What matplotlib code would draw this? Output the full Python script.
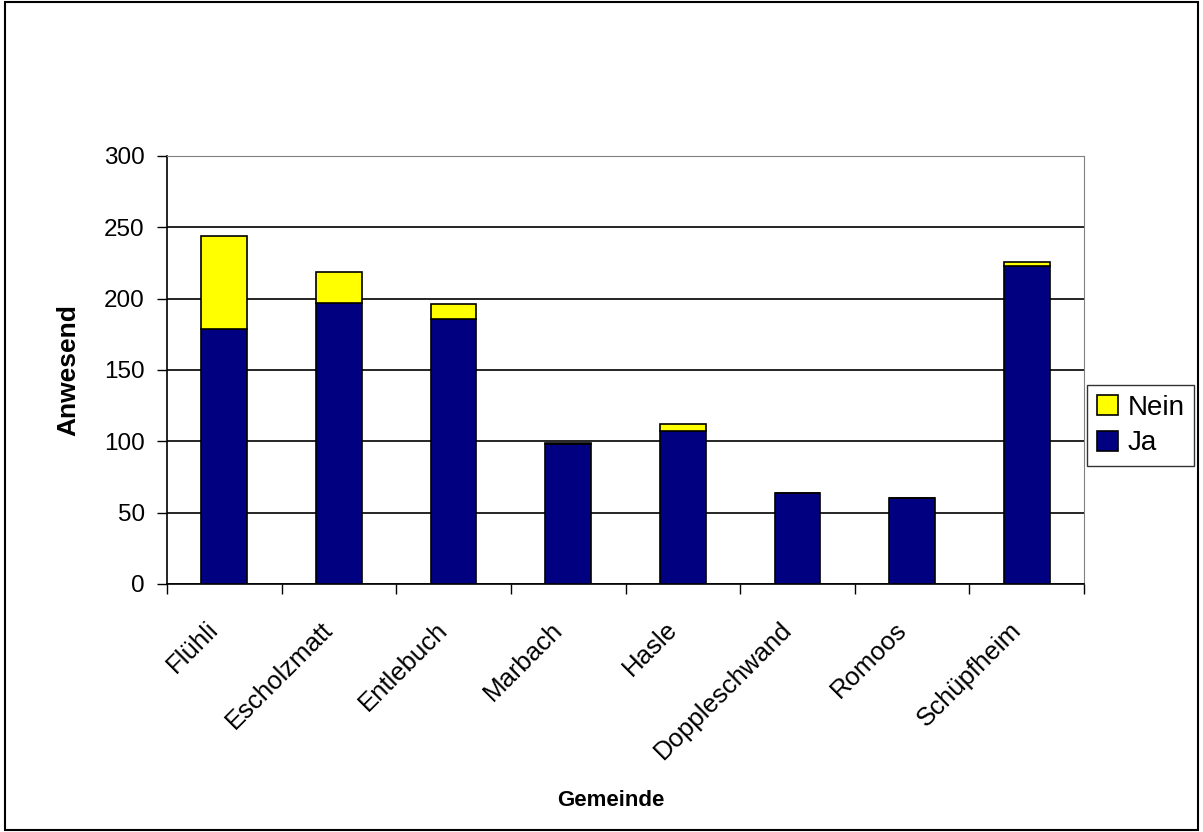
import numpy as np
import matplotlib.pyplot as plt
from matplotlib.patches import Rectangle

plt.rcParams["font.family"] = ["Liberation Sans", "DejaVu Sans"]

gemeinden = ["Flühli", "Escholzmatt", "Entlebuch", "Marbach", "Hasle",
             "Doppleschwand", "Romoos", "Schüpfheim"]
ja = [179, 197, 186, 98, 107, 64, 60, 223]
nein = [65, 22, 10, 1, 5, 0, 0, 3]

fig = plt.figure(figsize=(12.03, 8.32), dpi=100)
ax = fig.add_axes([167 / 1203, 1 - 584 / 832, (1084 - 167) / 1203, (584 - 156) / 832])

x = np.arange(len(gemeinden))
ax.bar(x, ja, width=0.4, color="#000080", edgecolor="black", linewidth=1.2,
       label="Ja", zorder=3)
ax.bar(x, nein, width=0.4, bottom=ja, color="#ffff00", edgecolor="black",
       linewidth=1.2, label="Nein", zorder=3)

ax.set_xlim(-0.5, len(gemeinden) - 0.5)
ax.set_ylim(0, 300)
ax.set_yticks(np.arange(0, 301, 50))
ax.yaxis.grid(True, color="black", linewidth=1.2, zorder=0)
ax.set_axisbelow(True)

# category ticks sit between the bars
ax.set_xticks(np.arange(-0.5, len(gemeinden) - 0.4, 1))
ax.set_xticklabels([])
ax.tick_params(axis="x", length=7, width=1, direction="out")
ax.tick_params(axis="y", length=7, width=1, direction="out", labelsize=17.5, pad=9)
for xi, name in zip(x, gemeinden):
    ax.annotate(name, xy=(xi, 0), xycoords="data", xytext=(-13, -24),
                textcoords="offset points", rotation=45, ha="right", va="top",
                rotation_mode="anchor", fontsize=18.5)

for side in ["top", "right"]:
    ax.spines[side].set_color("#808080")
for side in ["left", "bottom"]:
    ax.spines[side].set_color("black")
    ax.spines[side].set_linewidth(1.2)

fig.text(68 / 1203, 1 - 370 / 832, "Anwesend", rotation=90, ha="center",
         va="center", fontsize=19, fontweight="bold")
fig.text(611 / 1203, 1 - 800 / 832, "Gemeinde", ha="center", va="center",
         fontsize=16, fontweight="bold")

handles, labels = ax.get_legend_handles_labels()
leg = fig.legend(handles[::-1], labels[::-1], loc="upper left",
                 bbox_to_anchor=(1087 / 1203, 1 - 385 / 832), fontsize=20,
                 frameon=True, fancybox=False, edgecolor="black",
                 handlelength=0.75, handleheight=0.75, handletextpad=0.35,
                 borderpad=0.35, labelspacing=0.35, borderaxespad=0)
leg.get_frame().set_linewidth(1)

fig.patches.append(Rectangle((0.004, 0.003), 0.992, 0.994, transform=fig.transFigure,
                             fill=False, edgecolor="black", linewidth=1.5))

fig.savefig("out.png", dpi=100)
